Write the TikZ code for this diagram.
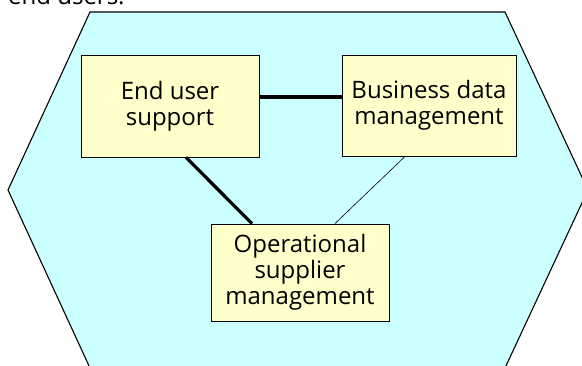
\documentclass[tikz,border=0pt]{standalone}
\usepackage{fontspec}
\setmainfont{Open Sans}
\definecolor{hexfill}{HTML}{CCFFFF}
\definecolor{boxfill}{HTML}{FFFFCC}
\tikzset{
  box/.style={draw=black, line width=0.9pt, fill=boxfill, align=center, inner sep=0pt,
    font=\fontsize{24}{26}\selectfont},
  strong/.style={line width=3.2pt},
  weak/.style={line width=0.6pt},
}
\begin{document}
\begin{tikzpicture}[x=1pt,y=-1pt]
\useasboundingbox (0,0) rectangle (582,365);
\clip (0,0) rectangle (582,365);
\fill[white] (0,0) rectangle (582,365);
\draw[fill=hexfill, line width=1.1pt] (90,12) -- (505,12) -- (588,190) -- (505,368) -- (90,368) -- (8,190) -- cycle;
\node[anchor=base west, inner sep=0pt, font=\fontsize{24}{26}\selectfont] (cap) at (8,4) {end users.};
\node[box, minimum width=178pt, minimum height=102pt] (eu) at (170,106) {End user\\support};
\node[box, minimum width=174pt, minimum height=101pt] (bd) at (429,105.5) {Business data\\management};
\node[box, minimum width=178pt, minimum height=97pt] (op) at (300,272.5) {Operational\\supplier\\management};
\draw[strong] ([yshift=9pt]eu.east) -- ([yshift=8.5pt]bd.west);
\draw[strong] ([xshift=16pt]eu.south) -- ([xshift=-48pt]op.north);
\draw[weak] ([xshift=-24pt]bd.south) -- ([xshift=35pt]op.north);
\end{tikzpicture}
\end{document}
